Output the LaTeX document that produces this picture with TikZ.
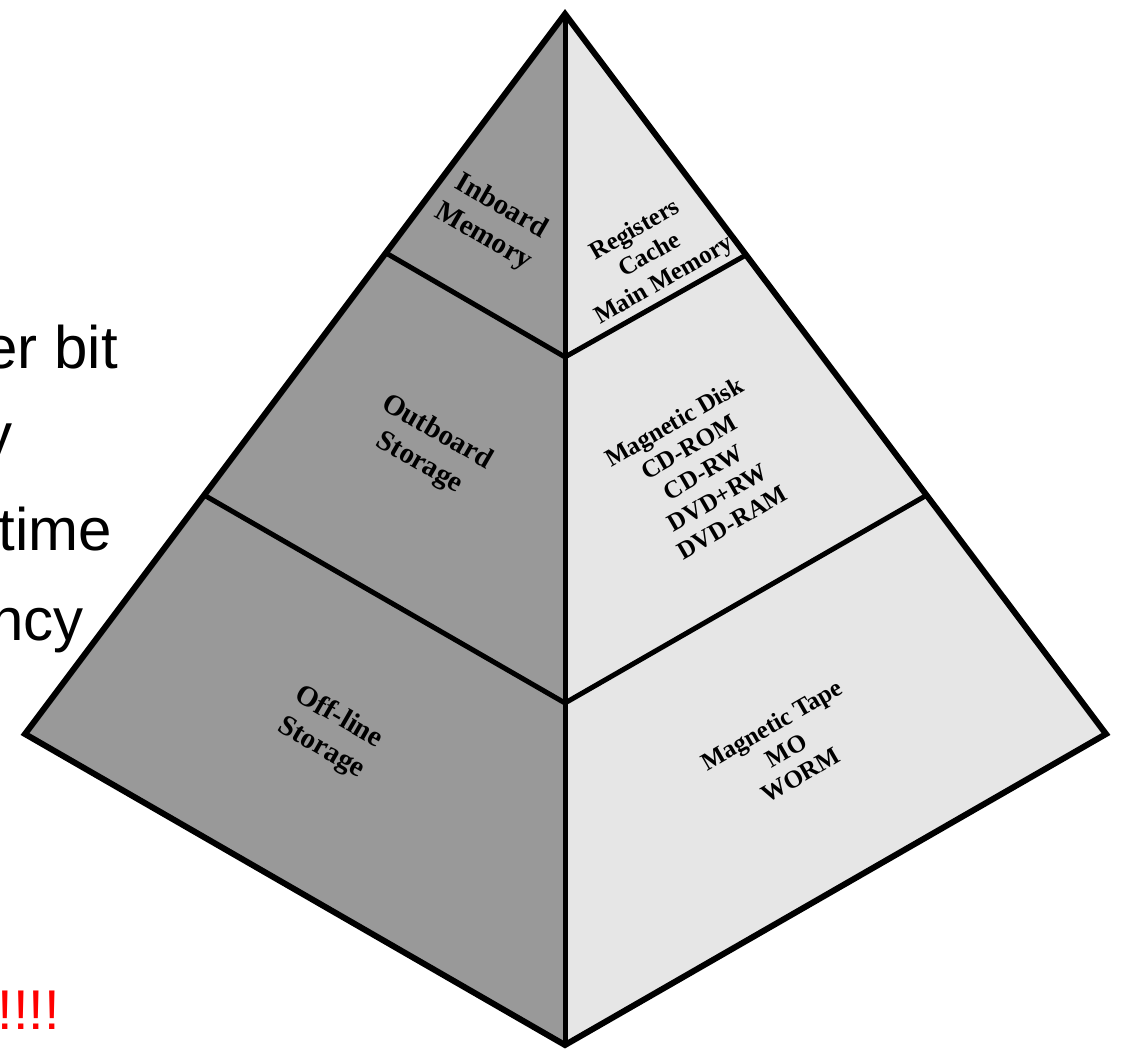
\documentclass[tikz,border=0pt]{standalone}
\usepackage{fontspec}
\setmainfont{Liberation Serif}
\newfontfamily\arialf{Liberation Sans}
\definecolor{darkface}{HTML}{999999}
\definecolor{lightface}{HTML}{E6E6E6}
\begin{document}
\begin{tikzpicture}[x=1pt,y=-1pt,
  sidetext/.style={font=\arialf\fontsize{60}{72}\selectfont, inner sep=0pt, anchor=base east},
  redtext/.style={font=\arialf\fontsize{56}{64}\selectfont, inner sep=0pt, anchor=base east, text=red},
  leftlbl/.style={font=\bfseries\fontsize{29}{35}\selectfont, align=center, inner sep=0pt, rotate=-30},
  rightlbl/.style={font=\bfseries\fontsize{25}{29}\selectfont, align=center, inner sep=0pt, rotate=30},
  edgeline/.style={line width=6pt, line join=miter, line cap=butt},
  divline/.style={line width=5pt, line cap=butt}]
\useasboundingbox (0,0) rectangle (1122,1053);
\clip (0,0) rectangle (1122,1053);

% partially hidden slide text
\node[sidetext] (t1) at (118,368) {er bit};
\node[sidetext] (t2) at (13,455) {y};
\node[sidetext] (t3) at (112,550) {time};
\node[sidetext] (t4) at (84,640) {ncy};
\node[redtext] (t5) at (60,1029) {!!!!};

% pyramid corners
\coordinate (A) at (565,14);
\coordinate (L) at (25,734);
\coordinate (R) at (1106,734);
\coordinate (B) at (565,1045);
\coordinate (UL) at (386,253);
\coordinate (UC) at (565,357);
\coordinate (UR) at (746,255);
\coordinate (LL) at (204,495);
\coordinate (LC) at (565,703);
\coordinate (LR) at (927,495);

% faces
\fill[darkface] (A) -- (L) -- (B) -- cycle;
\fill[lightface] (A) -- (R) -- (B) -- cycle;

% dividers
\draw[divline] (UL) -- (UC) -- (UR);
\draw[divline] (LL) -- (LC) -- (LR);
\draw[divline] (A) -- (B);
% outline
\draw[edgeline] (A) -- (L) -- (B) -- (R) -- cycle;

% labels
\node[leftlbl] (inb) at (492,222) {Inboard\\Memory};
\node[leftlbl] (outb) at (428,448) {Outboard\\Storage};
\node[leftlbl] (offl) at (330,733) {Off-line\\Storage};
\node[rightlbl] (reg) at (650,256) {Registers\\Cache\\Main Memory};
\node[rightlbl] (disk) at (703,472) {Magnetic Disk\\CD-ROM\\CD-RW\\DVD+RW\\DVD-RAM};
\node[rightlbl] (tape) at (786,750) {Magnetic Tape\\MO\\WORM};
\end{tikzpicture}
\end{document}
